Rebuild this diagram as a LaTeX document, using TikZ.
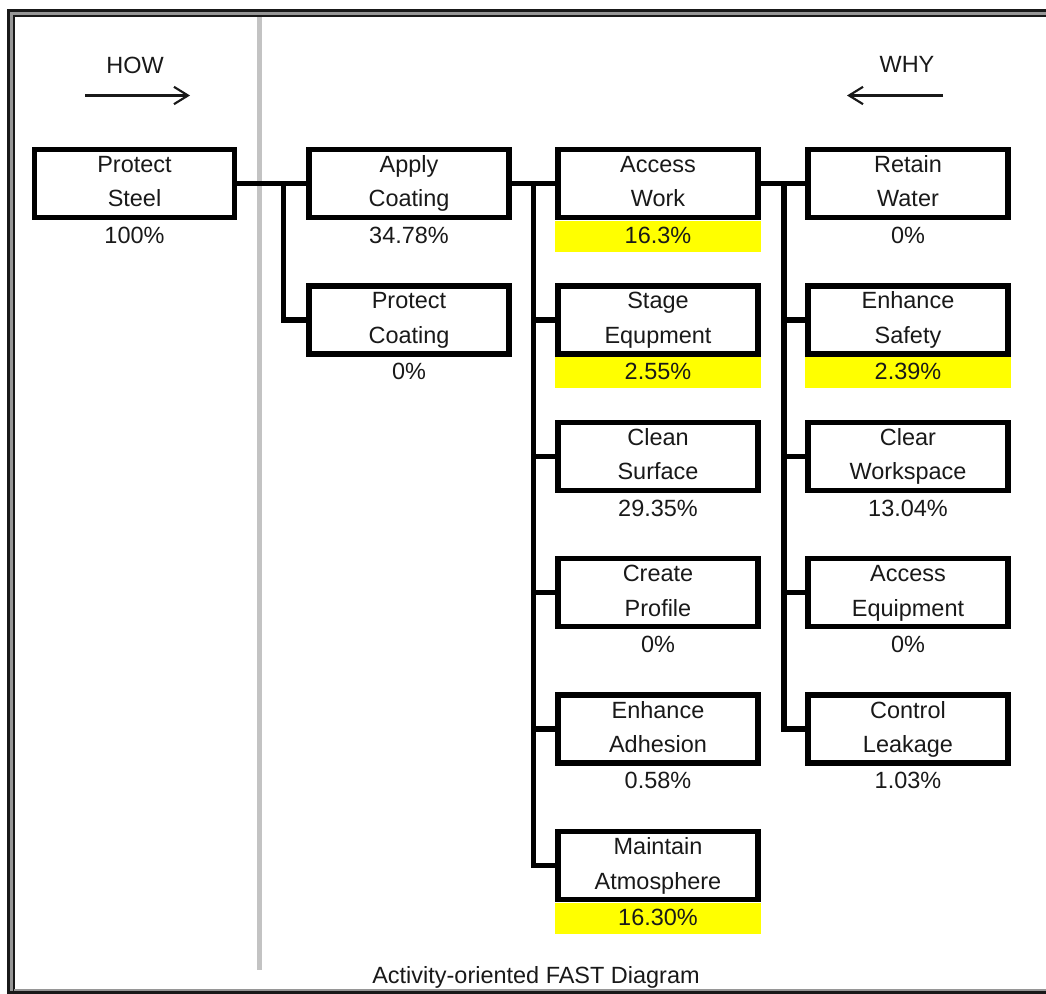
\documentclass[tikz,border=0pt]{standalone}
\usepackage{fontspec}
\setmainfont{Liberation Sans}
\usetikzlibrary{arrows.meta,calc}
\newcommand\twoln[2]{\rule{0pt}{14.25pt}#1\\#2\rule[-4.875pt]{0pt}{4.875pt}}
\definecolor{ink}{RGB}{25,25,25}
\definecolor{sepgray}{RGB}{195,195,195}
\definecolor{bandgray}{RGB}{150,150,150}
\definecolor{hl}{RGB}{255,255,0}
\begin{document}
\begin{tikzpicture}[x=0.75pt,y=-0.75pt,
  txt/.style={font=\fontsize{17.6}{25.875}\selectfont, text=ink},
  fbox/.style={txt, draw=black, line width=4.1pt, minimum width=150pt, minimum height=51pt, inner sep=0pt, align=center},
  pct/.style={txt, minimum width=154.1pt, minimum height=23.25pt, inner sep=0pt, text height=12.4pt, text depth=1.5pt},
  hlpct/.style={pct, fill=hl},
  conn/.style={line width=4.1pt, black, line join=miter},
  dirarrow/.style={line width=1.6pt, ink, -{Straight Barb[length=10.5pt,width=13pt,line width=1.6pt]}},
  framedark/.style={line width=1.9pt, ink},
  caption/.style={txt, inner sep=0pt, text height=12.6pt, text depth=0pt},
]
\useasboundingbox (0,0) rectangle (1046,994);
% frame
\draw[line width=5.8pt, bandgray] (11.2,994) -- (11.2,13.3) -- (1046,13.3);
\draw[framedark] (8.6,994) -- (8.6,10.6) -- (1046,10.6);
\draw[framedark] (13.8,994) -- (13.8,16) -- (1046,16);
\draw[line width=1.2pt, bandgray] (13.8,990.2) -- (1046,990.2);
\draw[line width=1.9pt, ink] (7.5,992.6) -- (1046,992.6);
% separator
\draw[sepgray, line width=3.75pt] (259.5,17) -- (259.5,970);
% how / why
\node[caption] (how) at (135,65) {HOW};
\node[caption] (why) at (907,64.5) {WHY};
\coordinate (howA) at (85,95.5);
\coordinate (howB) at (190,95.5);
\coordinate (whyA) at (943,95.5);
\coordinate (whyB) at (847,95.5);
\draw[dirarrow] (howA) -- (howB);
\draw[dirarrow] (whyA) -- (whyB);
% boxes
\node[fbox] (ps) at (134.5,183.5) {\twoln{Protect}{Steel}};
\node[pct] (psp) at ([yshift=-39.4pt]ps.center) {100\%};
\node[fbox] (ac) at (409,183.5) {\twoln{Apply}{Coating}};
\node[pct] (acp) at ([yshift=-39.4pt]ac.center) {34.78\%};
\node[fbox] (pc) at (409,319.9) {\twoln{Protect}{Coating}};
\node[pct] (pcp) at ([yshift=-39.4pt]pc.center) {0\%};
\node[fbox] (aw) at (658,183.5) {\twoln{Access}{Work}};
\node[hlpct] (awp) at ([yshift=-39.4pt]aw.center) {16.3\%};
\node[fbox] (se) at (658,319.9) {\twoln{Stage}{Equpment}};
\node[hlpct] (sep) at ([yshift=-39.4pt]se.center) {2.55\%};
\node[fbox] (cs) at (658,456.3) {\twoln{Clean}{Surface}};
\node[pct] (csp) at ([yshift=-39.4pt]cs.center) {29.35\%};
\node[fbox] (cp) at (658,592.7) {\twoln{Create}{Profile}};
\node[pct] (cpp) at ([yshift=-39.4pt]cp.center) {0\%};
\node[fbox] (ea) at (658,729.1) {\twoln{Enhance}{Adhesion}};
\node[pct] (eap) at ([yshift=-39.4pt]ea.center) {0.58\%};
\node[fbox] (ma) at (658,865.5) {\twoln{Maintain}{Atmosphere}};
\node[hlpct] (map) at ([yshift=-39.4pt]ma.center) {16.30\%};
\node[fbox] (rw) at (908,183.5) {\twoln{Retain}{Water}};
\node[pct] (rwp) at ([yshift=-39.4pt]rw.center) {0\%};
\node[fbox] (es) at (908,319.9) {\twoln{Enhance}{Safety}};
\node[hlpct] (esp) at ([yshift=-39.4pt]es.center) {2.39\%};
\node[fbox] (cw) at (908,456.3) {\twoln{Clear}{Workspace}};
\node[pct] (cwp) at ([yshift=-39.4pt]cw.center) {13.04\%};
\node[fbox] (ae) at (908,592.7) {\twoln{Access}{Equipment}};
\node[pct] (aep) at ([yshift=-39.4pt]ae.center) {0\%};
\node[fbox] (cl) at (908,729.1) {\twoln{Control}{Leakage}};
\node[pct] (clp) at ([yshift=-39.4pt]cl.center) {1.03\%};
% connectors
\coordinate (j1) at (283.5,183.5);
\coordinate (j2) at (533.5,183.5);
\coordinate (j3) at (784,183.5);
\draw[conn] (ps.east) -- (ac.west);
\draw[conn] (j1) |- (pc.west);
\draw[conn] (ac.east) -- (aw.west);
\foreach \t in {se,cs,cp,ea,ma} \draw[conn] (j2) |- (\t.west);
\draw[conn] (aw.east) -- (rw.west);
\foreach \t in {es,cw,ae,cl} \draw[conn] (j3) |- (\t.west);
% title
\node[caption] (title) at (536,975.5) {Activity-oriented FAST Diagram};
\end{tikzpicture}
\end{document}
